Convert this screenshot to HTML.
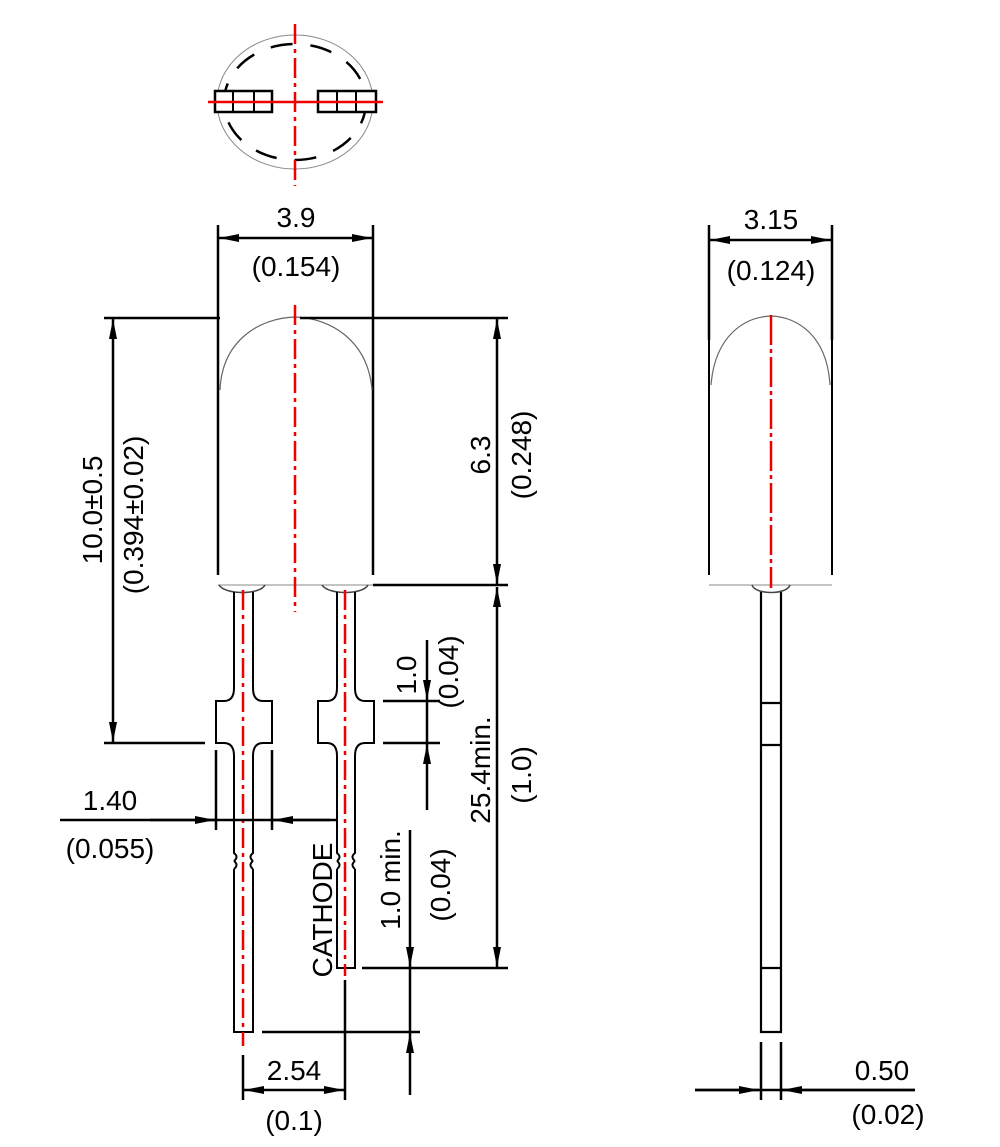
<!DOCTYPE html>
<html><head><meta charset="utf-8"><style>
body{margin:0;background:#fff}
svg{display:block}
text{font-family:"Liberation Sans",sans-serif;font-size:28px;fill:#000}
</style></head><body>
<svg width="1000" height="1147" viewBox="0 0 1000 1147" xmlns="http://www.w3.org/2000/svg">
<defs>
<marker id="a" viewBox="0 0 20 8" refX="20" refY="4" markerWidth="20" markerHeight="8" markerUnits="userSpaceOnUse" orient="auto"><path d="M0,0L20,4L0,8z" fill="#000"/></marker>
</defs>
<!-- Top view -->
<ellipse cx="295" cy="102" rx="78" ry="67" fill="none" stroke="#888" stroke-width="1"/>
<ellipse cx="295" cy="102" rx="71" ry="58" fill="none" stroke="#000" stroke-width="2.5" stroke-dasharray="22,18"/>
<g fill="#fff" stroke="#000" stroke-width="2.5">
<rect x="215" y="91" width="57" height="21"/><rect x="318" y="91" width="58" height="21"/>
</g>
<path d="M233 91V112M254 91V112M337 91V112M356 91V112" stroke="#000" stroke-width="2"/>
<path d="M208 102H383" stroke="#e00" stroke-width="2.5"/>
<path d="M295 24V186" stroke="#e00" stroke-width="2.5" stroke-dasharray="20,5,4,5"/>

<!-- Front body -->
<g stroke="#000" stroke-width="2.5" fill="none">
<path d="M218 225V575M373 225V575"/>
<path d="M709 225V340M832 225V340"/>
</g>
<path d="M220 390C222 340 260 318 295 317C330 318 368 340 372 390" fill="none" stroke="#666" stroke-width="1.2"/>
<path d="M218 585H373" stroke="#888" stroke-width="1"/>
<path d="M219 585C225 595 260 595 265 585M322 585C328 595 363 595 368 585" fill="none" stroke="#444" stroke-width="1.5"/>
<!-- leads -->
<g stroke="#000" stroke-width="2" fill="none">
<path d="M234 592V688Q234 701 224 701H216V743H224Q234 743 234 756V853q5 4 0 8M253 592V688Q253 701 263 701H272V743H263Q253 743 253 756V853q-5 4 0 8"/>
<path d="M337 592V688Q337 701 327 701H318V743H327Q337 743 337 756V853q5 4 0 8M355 592V688Q355 701 365 701H374V743H365Q355 743 355 756V853q-5 4 0 8"/>
<path d="M234 869q5 -4 0 -8M253 869q-5-4 0-8M337 869q5-4 0-8M355 869q-5-4 0-8"/>
<path d="M234 869V1032H253V869M337 869V968H355V869"/>
</g>
<g stroke="#e00" stroke-width="2.5" stroke-dasharray="20,5,4,5">
<path d="M295 305V612"/><path d="M243 590V1046"/><path d="M345 590V976"/>
</g>

<!-- Dimensions -->
<g stroke="#000" stroke-width="2.5" fill="none" marker-end="url(#a)">
<path d="M296 238H219"/><path d="M296 238H372"/>
<path d="M113 530V319"/><path d="M113 530V742"/>
<path d="M497 450V319"/><path d="M497 450V584"/>
<path d="M497 780V587"/><path d="M497 780V967"/>
<path d="M427 640V700"/><path d="M427 810V744"/>
<path d="M150 820H215"/><path d="M330 820H273"/>
<path d="M410 830V967"/><path d="M410 1095V1033"/>
<path d="M294 1090H244"/><path d="M294 1090H344"/>
<path d="M771 240H710"/><path d="M771 240H831"/>
<path d="M695 1090H759"/><path d="M915 1090H782"/>
</g>
<g stroke="#000" stroke-width="2.5" fill="none">
<path d="M104 318H220M300 318H508M373 585H508M104 743H205M383 701H440M383 743H440M427 700V744"/>
<path d="M60 820H336M216 750V830M272 750V830"/>
<path d="M362 968H508M262 1032H420M410 967V1033"/>
<path d="M243 1055V1100M345 980V1100"/>
<path d="M761 1042V1100M781 1042V1100M695 1090H915"/>
</g>

<!-- Side view -->
<path d="M711 385C715 335 745 317 771 316C797 317 827 335 830 385" fill="none" stroke="#666" stroke-width="1.2"/>
<path d="M709 340V575M832 340V575" stroke="#000" stroke-width="2" fill="none"/>
<path d="M709 585H832" stroke="#888" stroke-width="1"/>
<path d="M752 585C755 595 787 595 790 585" fill="none" stroke="#444" stroke-width="1.5"/>
<g stroke="#000" stroke-width="2.2" fill="none">
<path d="M761 592V1032H781V592M761 703H781M761 745H781M761 968H781"/>
</g>
<path d="M771 315V588" stroke="#e00" stroke-width="2.5" stroke-dasharray="30,4,4,4"/>

<!-- Text -->
<g text-anchor="middle">
<text x="296" y="227">3.9</text>
<text x="296" y="276">(0.154)</text>
<text x="771" y="229">3.15</text>
<text x="771" y="280">(0.124)</text>
<text x="110" y="810">1.40</text>
<text x="110" y="858">(0.055)</text>
<text x="294" y="1080">2.54</text>
<text x="294" y="1130">(0.1)</text>
<text x="882" y="1080">0.50</text>
<text x="888" y="1124">(0.02)</text>
<text transform="translate(102 510) rotate(-90)">10.0±0.5</text>
<text transform="translate(143 515) rotate(-90)">(0.394±0.02)</text>
<text transform="translate(490 455) rotate(-90)">6.3</text>
<text transform="translate(531 455) rotate(-90)">(0.248)</text>
<text transform="translate(490 770) rotate(-90)">25.4min.</text>
<text transform="translate(531 775) rotate(-90)">(1.0)</text>
<text transform="translate(416 675) rotate(-90)">1.0</text>
<text transform="translate(458 672) rotate(-90)">(0.04)</text>
<text transform="translate(400 880) rotate(-90)">1.0  min.</text>
<text transform="translate(450 885) rotate(-90)">(0.04)</text>
<text transform="translate(332 910) rotate(-90)">CATHODE</text>
</g>
</svg>
</body></html>
